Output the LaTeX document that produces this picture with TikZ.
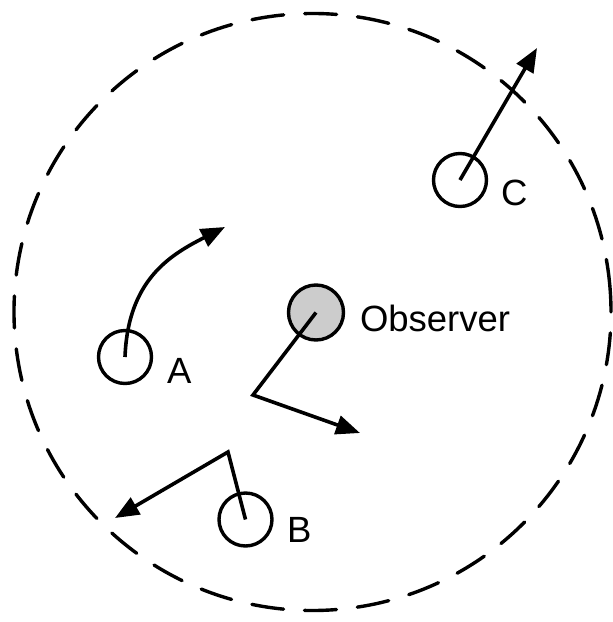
\documentclass[tikz,border=0pt]{standalone}
\usepackage{fontspec}
\setmainfont{Liberation Sans}
\usetikzlibrary{arrows.meta}
\begin{document}
\begin{tikzpicture}[x=1pt,y=1pt,
  every node/.style={inner sep=0pt, outer sep=0pt},
  rangecircle/.style={circle, draw, line width=3.4pt, line cap=round, dash pattern=on 32pt off 21pt, minimum size=597pt},
  agent/.style={circle, draw, line width=3.4pt, minimum size=53pt},
  obsagent/.style={agent, fill=black!20, minimum size=55pt},
  lbl/.style={anchor=base west, font=\fontsize{36.5}{40}\selectfont},
  move/.style={line width=3.6pt, -{Triangle[length=24pt, width=19pt]}}
]
\useasboundingbox (0,0) rectangle (613,-622);
\node[rangecircle, rotate=4] (range) at (312.5,-312) {};
\node[agent] (A) at (125,-357) {};
\node[agent] (B) at (245.5,-519.5) {};
\node[agent] (C) at (460,-180) {};
\node[obsagent] (obs) at (316,-312.5) {};
\node[lbl] (lA) at (167,-383) {A};
\node[lbl] (lB) at (287,-542) {B};
\node[lbl] (lC) at (501,-205) {C};
\node[lbl] (lobs) at (360,-331) {Observer};
\coordinate (Aend) at (225,-227);
\coordinate (obsbend) at (253,-395);
\coordinate (obsend) at (360,-433);
\coordinate (Bbend) at (228,-452);
\coordinate (Bend) at (115,-518);
\coordinate (Cend) at (537,-48);
\draw[move] (A.center) .. controls (128,-280) and (170,-255) .. (Aend);
\draw[move] (obs.center) -- (obsbend) -- (obsend);
\draw[move] (B.center) -- (Bbend) -- (Bend);
\draw[move] (C.center) -- (Cend);
\end{tikzpicture}
\end{document}
